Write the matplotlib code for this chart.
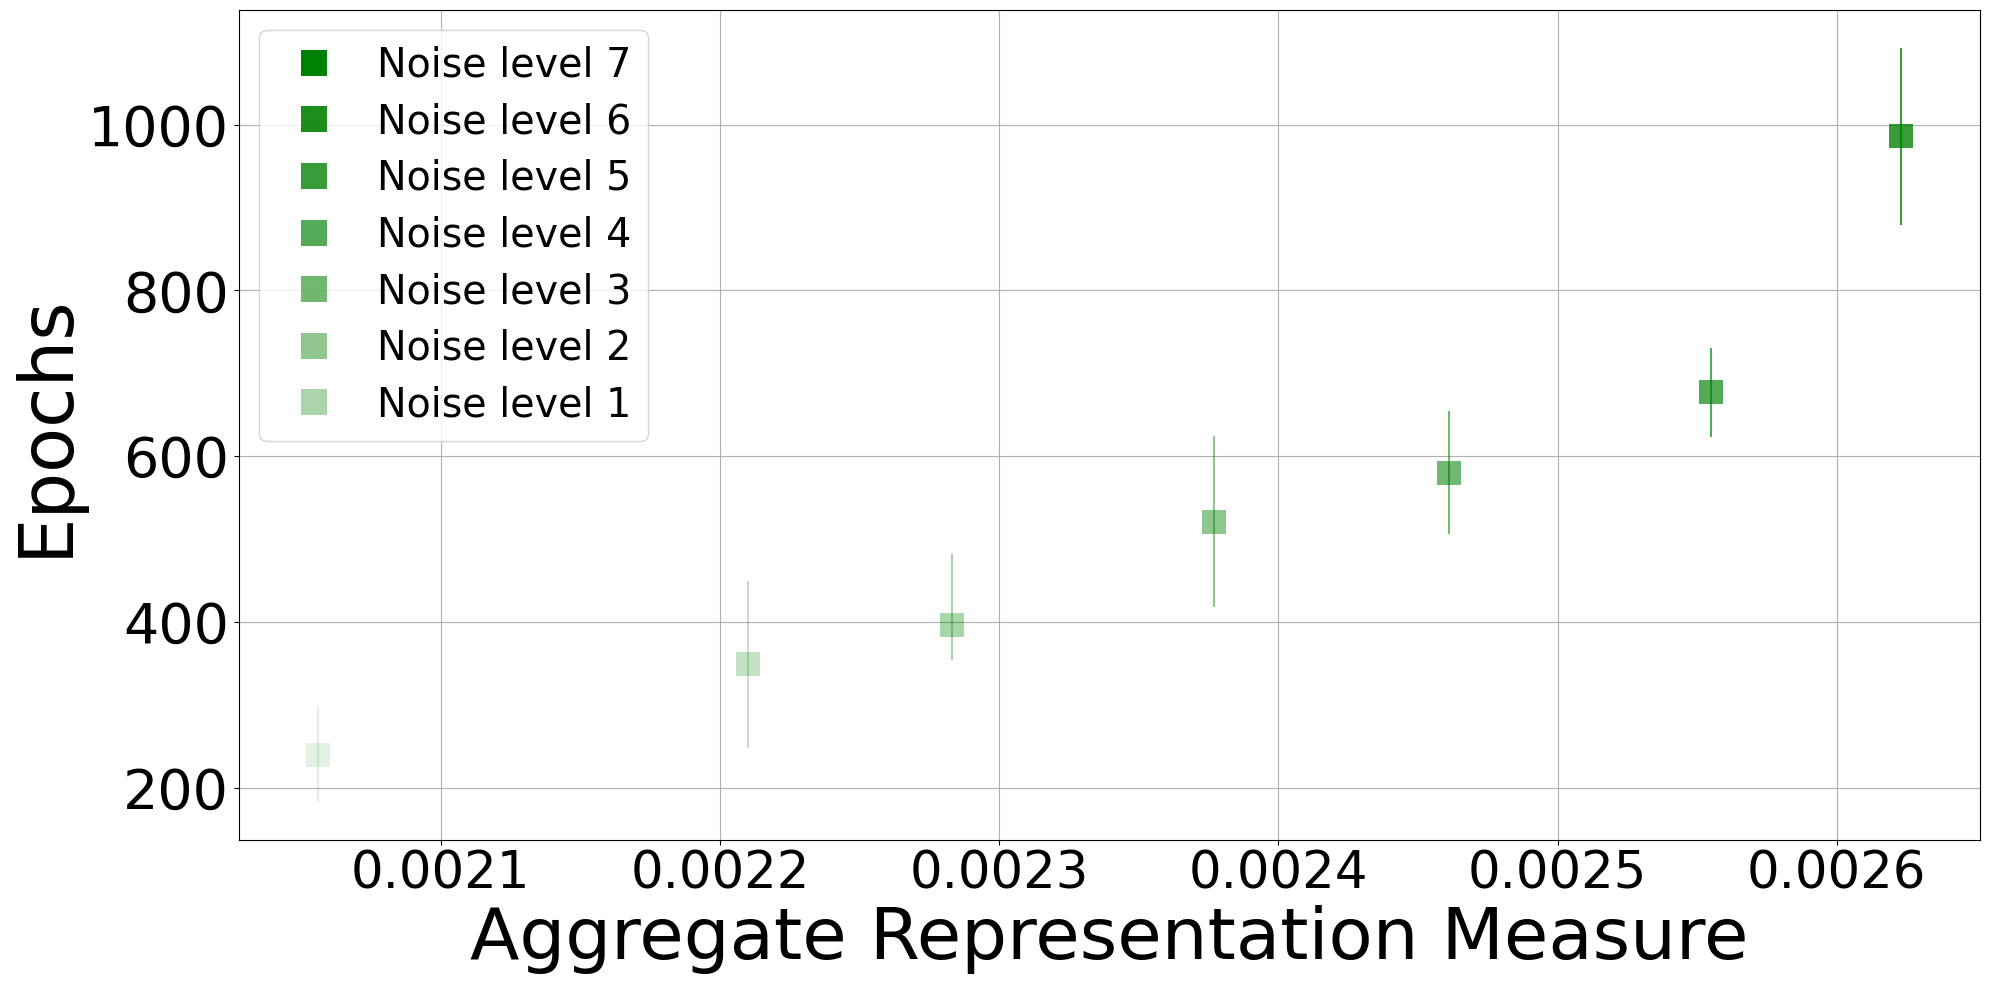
import matplotlib
matplotlib.use('Agg')
import matplotlib.pyplot as plt
from matplotlib.lines import Line2D

# data
levels = [1, 2, 3, 4, 5, 6, 7]
measure = [0.002056, 0.002210, 0.002283, 0.002377, 0.002461, 0.002555, 0.002623]
epochs = [240, 349, 396, 521, 580, 677, 986]
err_low = [57, 101, 42, 103, 74, 54, 107]
err_high = [57, 101, 86, 103, 74, 54, 107]

fig, ax = plt.subplots(figsize=(19.9, 9.9), dpi=100)
fig.subplots_adjust(left=0.12, right=0.995, top=0.99, bottom=0.152)

for i, lv in enumerate(levels):
    ax.errorbar(measure[i], epochs[i], yerr=[[err_low[i]], [err_high[i]]], fmt='s',
                color='green', alpha=lv / 9, markersize=17, markeredgewidth=0,
                elinewidth=1.5, capsize=0)

# legend handles are drawn darker than the points
handles = []
for lv in reversed(levels):
    handles.append(Line2D([], [], marker='s', linestyle='None', color='green',
                          alpha=min(1, (lv + 2) / 9), markersize=19,
                          markeredgewidth=0, label='Noise level %d' % lv))
ax.legend(handles=handles, loc='upper left', fontsize=28.5, handletextpad=0.6,
          labelspacing=0.42)

ax.grid(True)
ax.set_xlabel('Aggregate Representation Measure', fontsize=52)
ax.set_ylabel('Epochs', fontsize=53)
ax.tick_params(axis='y', labelsize=40)
ax.tick_params(axis='x', labelsize=37)

plt.savefig('out.png')
